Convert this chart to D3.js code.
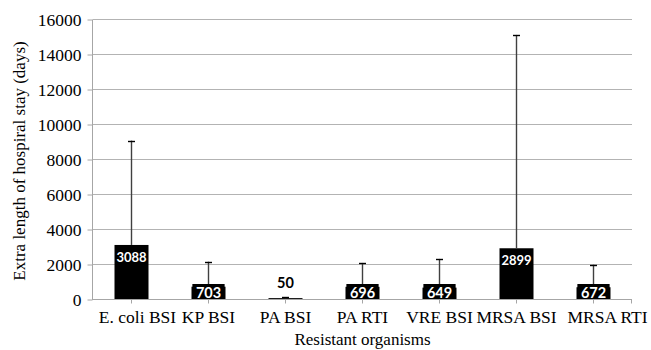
<!DOCTYPE html>
<html>
<head>
<meta charset="utf-8">
<script src="https://cdn.jsdelivr.net/npm/d3@7"></script>
<style>
body{margin:0;background:#fff;}
.tick text{font-family:"Liberation Serif","Times New Roman",serif;font-size:17.5px;fill:#000;}
</style>
</head>
<body>
<div id="chart"></div>
<script>
var organisms = ["E. coli BSI","KP BSI","PA BSI","PA RTI","VRE BSI","MRSA BSI","MRSA RTI"];
var extraDays = [3088,703,50,696,649,2899,672];
var upperError = [9050,2130,110,2060,2290,15090,1960];
var yTicks = [0,2000,4000,6000,8000,10000,12000,14000,16000];

function chart(){
    var w=651, h=350;
    var left=93, right=632, top=19, bottom=299;

    var svg=d3.select("#chart")
        .append("svg")
        .attr("width",w)
        .attr("height",h);

    var xScale=d3.scaleBand()
        .domain(organisms)
        .range([left,right]);

    var yScale=d3.scaleLinear()
        .domain([0,16000])
        .range([bottom,top]);

    // gridlines
    svg.append("g")
        .selectAll("line")
        .data(yTicks.slice(1))
        .enter()
        .append("line")
        .attr("x1",left)
        .attr("x2",right)
        .attr("y1",function(d){return yScale(d)+0.5;})
        .attr("y2",function(d){return yScale(d)+0.5;})
        .style("stroke","#b3b3b3")
        .style("stroke-width",1);

    // Y axis
    var yAxis=d3.axisLeft(yScale)
        .tickValues(yTicks)
        .tickSize(5)
        .tickPadding(6)
        .tickFormat(d3.format("d"));
    var gy=svg.append("g")
        .attr("transform","translate("+(left-0.5)+",0.5)")
        .call(yAxis);
    gy.select(".domain").attr("d","M0,"+top+"V"+(bottom+0.5)).style("stroke","#a6a6a6");
    gy.selectAll(".tick line").style("stroke","#a6a6a6");

    // bars
    var bw=34;
    var data=organisms.map(function(o,i){return {name:o,v:extraDays[i],e:upperError[i]};});

    svg.append("g")
        .selectAll("rect")
        .data(data)
        .enter()
        .append("rect")
        .attr("x",function(d){return xScale(d.name)+xScale.bandwidth()/2-bw/2;})
        .attr("y",function(d){return yScale(d.v);})
        .attr("width",bw)
        .attr("height",function(d){return Math.max(1,bottom-yScale(d.v));})
        .style("fill","#000");

    // error bars (positive only)
    var eb=svg.append("g");
    eb.selectAll("line.stem")
        .data(data)
        .enter()
        .append("line")
        .attr("class","stem")
        .attr("x1",function(d){return xScale(d.name)+xScale.bandwidth()/2;})
        .attr("x2",function(d){return xScale(d.name)+xScale.bandwidth()/2;})
        .attr("y1",function(d){return yScale(d.v);})
        .attr("y2",function(d){return yScale(d.e);})
        .style("stroke","#404040")
        .style("stroke-width",1.4);
    eb.selectAll("line.cap")
        .data(data)
        .enter()
        .append("line")
        .attr("class","cap")
        .attr("x1",function(d){return xScale(d.name)+xScale.bandwidth()/2-3.5;})
        .attr("x2",function(d){return xScale(d.name)+xScale.bandwidth()/2+3.5;})
        .attr("y1",function(d){return Math.round(yScale(d.e))+0.5;})
        .attr("y2",function(d){return Math.round(yScale(d.e))+0.5;})
        .style("stroke","#000")
        .style("stroke-width",1.4);

    // X axis
    var xAxis=d3.axisBottom(xScale)
        .tickSize(4)
        .tickPadding(6);
    var gx=svg.append("g")
        .attr("transform","translate(0,"+(bottom+0.5)+")")
        .call(xAxis);
    gx.select(".domain").attr("d","M"+left+",0H"+right).style("stroke","#a6a6a6");
    gx.selectAll(".tick line").style("stroke","#a6a6a6");
    gx.selectAll(".tick text").attr("dy","0.78em");
    // outer labels are shifted a bit to the right, as in the original
    gx.selectAll(".tick text").attr("dx",function(d,i){
        if(i===0) return 6;
        if(i===organisms.length-1) return 14;
        return 0;
    });
    gx.append("line").attr("x1",right-0.5).attr("x2",right-0.5).attr("y1",0).attr("y2",4).style("stroke","#a6a6a6");

    // value labels
    var lab=svg.append("g");
    var boxH=15;
    data.forEach(function(d){
        var cx=xScale(d.name)+xScale.bandwidth()/2;
        var barTop=yScale(d.v);
        if(bottom-barTop<3){
            lab.append("text")
                .attr("x",cx)
                .attr("y",yScale(d.e)-9)
                .attr("text-anchor","middle")
                .style("font-family","Lato, 'Open Sans', sans-serif")
                .style("font-weight","bold")
                .style("font-size","14.5px")
                .text(d.v);
            return;
        }
        var rect=lab.append("rect").style("fill","#000");
        var tall=(bottom-barTop)>boxH+4;
        var boxTop=tall?barTop:bottom-boxH;
        var t=lab.append("text")
            .attr("x",cx)
            .attr("y",tall?barTop+17:bottom-1.5)
            .attr("text-anchor","middle")
            .style("fill","#fff")
            .style("font-family","Lato, 'Open Sans', sans-serif")
            .style("font-weight","bold")
            .style("font-size",tall?"13px":"14.5px")
            .text(d.v);
        if(!tall){
            var tw=t.node().getComputedTextLength()+7;
            rect.attr("x",cx-tw/2)
                .attr("y",boxTop)
                .attr("width",tw)
                .attr("height",bottom-boxTop);
        }
    });

    // axis titles
    svg.append("text")
        .attr("x",(left+right)/2)
        .attr("y",345)
        .attr("text-anchor","middle")
        .style("font-family","'Liberation Serif','Times New Roman',serif")
        .style("font-size","17px")
        .text("Resistant organisms");

    svg.append("text")
        .attr("transform","translate(25,"+((top+bottom)/2+2)+") rotate(-90)")
        .attr("text-anchor","middle")
        .style("font-family","'Liberation Serif','Times New Roman',serif")
        .style("font-size","17px")
        .text("Extra length of hospiral stay (days)");
}

chart();
</script>
</body>
</html>
